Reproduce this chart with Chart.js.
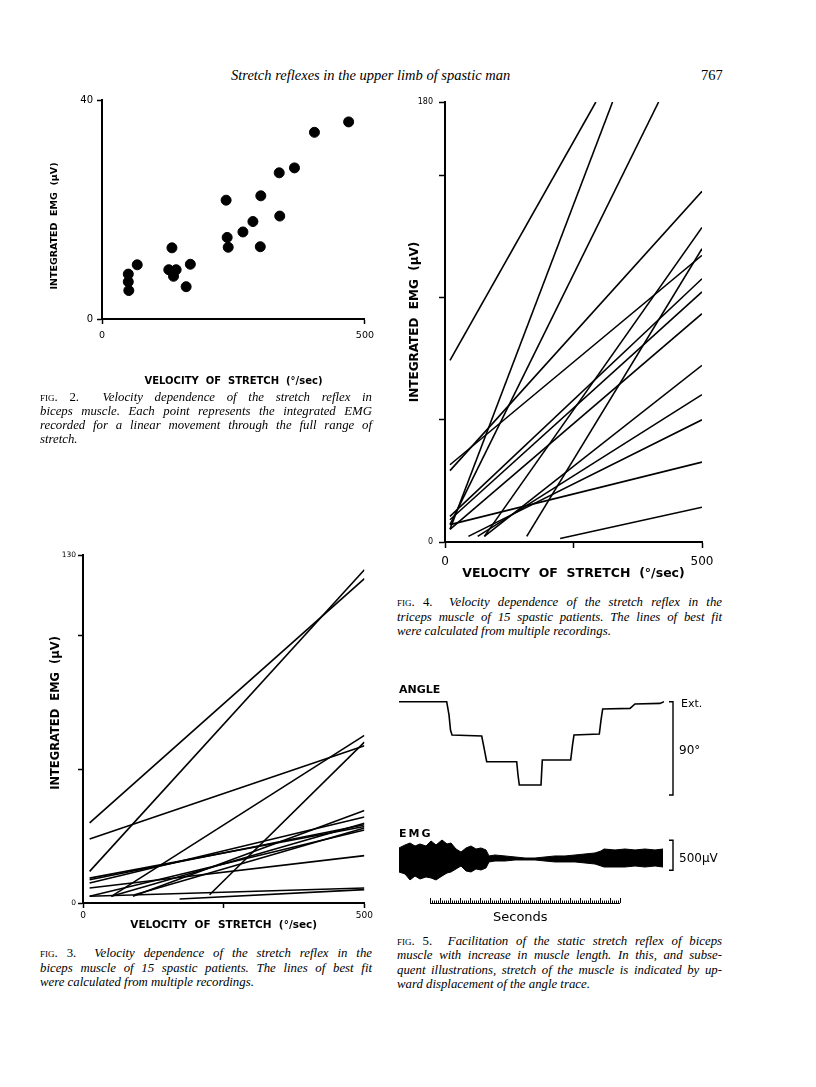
<!DOCTYPE html>
<html>
<head>
<meta charset="utf-8">
<script src="https://cdn.jsdelivr.net/npm/chart.js@4.4.0/dist/chart.umd.min.js"></script>
<style>
  html, body { margin: 0; padding: 0; background: #fff; }
  body { width: 816px; height: 1087px; position: relative; overflow: hidden; color: #000; }
  canvas { position: absolute; }
  .txt { position: absolute; white-space: nowrap; line-height: 16px; }
  .serif { font-family: 'Liberation Serif', 'DejaVu Serif', serif; }
  .sans { font-family: 'DejaVu Sans', sans-serif; }
  .cap {
    position: absolute; height: 14px; line-height: 14px; white-space: nowrap;
    font: italic 12.8px 'Liberation Serif', serif;
    text-align: justify; text-align-last: justify;
  }
  .cap.last { text-align-last: left; }
  .sc { font-style: normal; font-variant: small-caps; }
  .up { font-style: normal; }
</style>
</head>
<body>

<div class="txt serif" style="left:231px; top:67px; font-style:italic; font-size:14.5px;">Stretch reflexes in the upper limb of spastic man</div>
<div class="txt serif" style="left:701px; top:67px; font-size:14.5px;">767</div>

<canvas id="fig2" width="340" height="312" style="left:40px; top:85px;"></canvas>
<canvas id="fig3" width="345" height="395" style="left:30px; top:540px;"></canvas>
<canvas id="fig4" width="340" height="492" style="left:395px; top:90px;"></canvas>
<canvas id="fig5" width="340" height="240" style="left:390px; top:680px;"></canvas>

<!-- captions -->
<div class="cap" style="left:40px; width:332px; top:390px;"><span class="sc">fig</span><span class="up">. 2.</span>&nbsp; Velocity dependence of the stretch reflex in</div>
<div class="cap" style="left:40px; width:332px; top:404px;">biceps muscle. Each point represents the integrated EMG</div>
<div class="cap" style="left:40px; width:332px; top:418px;">recorded for a linear movement through the full range of</div>
<div class="cap last" style="left:40px; width:332px; top:432px;">stretch.</div>

<div class="cap" style="left:40px; width:332px; top:946px;"><span class="sc">fig</span><span class="up">. 3.</span>&nbsp; Velocity dependence of the stretch reflex in the</div>
<div class="cap" style="left:40px; width:332px; top:961px;">biceps muscle of 15 spastic patients. The lines of best fit</div>
<div class="cap last" style="left:40px; width:332px; top:975px;">were calculated from multiple recordings.</div>

<div class="cap" style="left:397px; width:325px; top:595px;"><span class="sc">fig</span><span class="up">. 4.</span>&nbsp; Velocity dependence of the stretch reflex in the</div>
<div class="cap" style="left:397px; width:325px; top:610px;">triceps muscle of 15 spastic patients. The lines of best fit</div>
<div class="cap last" style="left:397px; width:325px; top:624px;">were calculated from multiple recordings.</div>

<div class="cap" style="left:397px; width:325px; top:934px;"><span class="sc">fig</span><span class="up">. 5.</span>&nbsp; Facilitation of the static stretch reflex of biceps</div>
<div class="cap" style="left:397px; width:325px; top:948px;">muscle with increase in muscle length. In this, and subse-</div>
<div class="cap" style="left:397px; width:325px; top:963px;">quent illustrations, stretch of the muscle is indicated by up-</div>
<div class="cap last" style="left:397px; width:325px; top:977px;">ward displacement of the angle trace.</div>

<!-- fig 5 labels -->
<div class="txt sans" style="left:399px; top:682px; font-size:11px; font-weight:bold;">ANGLE</div>
<div class="txt sans" style="left:399px; top:826px; font-size:11px; font-weight:bold; letter-spacing:2px;">EMG</div>
<div class="txt sans" style="left:681px; top:696px; font-size:11px;">Ext.</div>
<div class="txt sans" style="left:679px; top:742px; font-size:12px;">90°</div>
<div class="txt sans" style="left:679px; top:850px; font-size:12px;">500μV</div>
<div class="txt sans" style="left:493px; top:909px; font-size:13px;">Seconds</div>

<script>
// ---- Fig. 2: single recordings, biceps (velocity °/sec, integrated EMG µV) ----
const fig2Velocity = [50, 50, 51, 67, 127, 133, 141, 136, 160, 168, 236, 238, 240, 268, 287, 302, 301, 337, 338, 366, 404, 469];
const fig2Emg = [8.2, 6.8, 5.2, 9.9, 9.0, 13.0, 9.0, 7.8, 5.9, 10.0, 21.7, 14.9, 13.1, 15.9, 17.8, 22.5, 13.2, 26.7, 18.8, 27.6, 34.1, 36.0];
const fig2XTicks = [0, 500];
const fig2YTicks = [0, 40];

// ---- Fig. 3: lines of best fit, biceps, 15 patients (start / end of each line) ----
const fig3X0 = [11.8, 11.8, 11.8, 50.4, 224.9, 11.8, 11.8, 11.8, 11.8, 91.8, 88.8, 11.8, 171.6, 11.8, 50.4];
const fig3Y0 = [29.9, 11.8, 23.9, 2.5, 3.1, 9.3, 8.7, 7.5, 5.6, 3.1, 2.5, 2.5, 1.5, 2.5, 2.5];
const fig3X1 = [500, 500, 500, 500, 500, 500, 500, 500, 500, 500, 500, 500, 500, 500, 500];
const fig3Y1 = [121.2, 124.5, 58.7, 62.6, 60.1, 28.6, 29.2, 32.1, 17.7, 28.0, 34.6, 5.6, 5.0, 27.3, 29.8];
const fig3XTicks = [0, 250, 500];
const fig3YTicks = [0, 50, 100, 130];
const fig3XLabels = [0, 500];
const fig3YLabels = [0, 130];

// ---- Fig. 4: lines of best fit, triceps, 15 patients ----
const fig4X0 = [9.7, 9.7, 9.7, 9.7, 9.7, 9.7, 224, 159, 45.5, 63.6, 76.6, 9.7, 9.7, 76.6, 9.7];
const fig4Y0 = [74.3, 29.2, 31.6, 5.2, 7.1, 7.1, 1.4, 2.3, 2.3, 2.3, 2.3, 10.5, 5.2, 2.3, 9.1];
const fig4X1 = [293.5, 500, 500, 326, 415.6, 500, 500, 500, 500, 500, 500, 500, 500, 500, 500];
const fig4Y1 = [180, 143.5, 117.3, 180, 180, 32.7, 14.2, 120, 50, 60.3, 72.3, 107.7, 93.4, 128.7, 102.3];
const fig4XTicks = [0, 250, 500];
const fig4YTicks = [0, 50, 100, 150, 180];
const fig4XLabels = [0, 500];
const fig4YLabels = [0, 180];

// ---- Fig. 5: angle trace (s, degrees) and EMG envelope (s, µV) ----
const angleTime = [0, 4.77, 5.0, 5.15, 5.3, 8.27, 8.45, 8.77, 11.77, 11.9, 12.03, 14.2, 14.33, 17.17, 17.35, 17.5, 20.03, 20.2, 20.37, 23.1, 23.6, 26.1, 26.5];
const angleDeg = [90, 90, 77.2, 62.7, 57.9, 56.9, 48.2, 32.1, 32.1, 19.3, 9.6, 9.6, 33.8, 33.8, 48.2, 57.9, 58.8, 72.3, 83.0, 83.6, 87.8, 88.4, 90];
const emgTime = [0, 0.6, 1.1, 1.6, 2.1, 2.7, 3.2, 3.7, 4.3, 4.8, 5.2, 5.7, 6.2, 6.7, 7.2, 7.7, 8.2, 8.7, 9.0, 9.6, 10.6, 11.6, 12.6, 13.6, 14.6, 15.6, 16.6, 17.6, 18.6, 19.6, 20.2, 20.5, 21.6, 22.6, 23.6, 24.6, 25.6, 26.4];
const emgUpper = [200, 250, 283, 233, 267, 233, 317, 250, 333, 267, 283, 183, 133, 200, 233, 183, 200, 167, 67, 83, 67, 50, 33, 33, 50, 67, 67, 83, 100, 117, 150, 183, 167, 183, 167, 183, 167, 183];
const emgLower = [-200, -233, -333, -267, -317, -283, -300, -333, -267, -217, -200, -150, -100, -183, -200, -150, -167, -133, -33, -17, -17, 0, 0, 0, -17, -33, -33, -33, -50, -67, -100, -117, -117, -117, -100, -117, -100, -117];
const angleCalib = [0, 90];      // 90° bar
const emgCalib = [-170, 330];    // 500 µV bar
const calibTime = 27.4;
const timeBar = [3.1, 22.1];     // seconds marker

const ink = '#000';
const sans = 'DejaVu Sans';

Chart.defaults.font.family = sans;
Chart.defaults.color = ink;

function lineSets(x0, y0, x1, y1) {
    return x0.map((v, i) => ({
        data: [{ x: v, y: y0[i] }, { x: x1[i], y: y1[i] }],
        showLine: true,
        borderColor: ink,
        borderWidth: 1.6,
        pointRadius: 0,
        fill: false
    }));
}

// shared axis setup for the velocity plots (Figs 2-4)
function velocityScales(c) {
    return {
        x: {
            type: 'linear', min: 0, max: 500,
            afterBuildTicks: s => { s.ticks = c.xTicks.map(v => ({ value: v })); },
            afterFit: s => { s.height = c.xHeight; },
            grid: { drawOnChartArea: false, tickLength: c.tickLen, tickWidth: 1.5, tickColor: ink },
            border: { color: ink, width: 2 },
            ticks: {
                color: ink, autoSkip: false, maxRotation: 0, padding: c.xTickPad,
                font: { family: sans, size: c.xTickSize },
                callback: v => c.xLabels.includes(v) ? String(v) : ''
            },
            title: {
                display: true, text: c.xTitle, color: ink,
                font: { family: sans, size: c.xTitleSize, weight: 'bold' },
                padding: { top: 0, bottom: c.xTitlePad }
            }
        },
        y: {
            type: 'linear', min: 0, max: c.yMax,
            afterBuildTicks: s => { s.ticks = c.yTicks.map(v => ({ value: v })); },
            afterFit: s => { s.width = c.yWidth; },
            grid: { drawOnChartArea: false, tickLength: c.tickLen, tickWidth: 1.5, tickColor: ink },
            border: { color: ink, width: 2 },
            ticks: {
                color: ink, autoSkip: false, padding: c.yTickPad,
                font: { family: sans, size: c.yTickSize },
                callback: v => c.yLabels.includes(v) ? String(v) : ''
            },
            title: {
                display: true, text: c.yTitle, color: ink,
                font: { family: sans, size: c.yTitleSize, weight: 'bold' },
                padding: { top: c.yTitlePad, bottom: 0 }
            }
        }
    };
}

const baseOptions = {
    responsive: false,
    animation: false,
    devicePixelRatio: 1,
    plugins: { legend: { display: false }, tooltip: { enabled: false } }
};

// 1. Fig. 2 scatter
new Chart(document.getElementById('fig2'), {
    type: 'scatter',
    data: {
        datasets: [{
            data: fig2Velocity.map((v, i) => ({ x: v, y: fig2Emg[i] })),
            backgroundColor: ink, borderColor: ink, pointRadius: 5, pointHoverRadius: 5
        }]
    },
    options: {
        ...baseOptions,
        layout: { padding: { top: 15, right: 10, left: 0, bottom: 0 } },
        scales: velocityScales({
            xTicks: fig2XTicks, xLabels: fig2XTicks, yTicks: fig2YTicks, yLabels: fig2YTicks, yMax: 40,
            xHeight: 78, yWidth: 62, tickLen: 5,
            xTickSize: 9.5, xTickPad: 6, yTickSize: 10, yTickPad: 4,
            xTitle: 'VELOCITY  OF  STRETCH  (°/sec)', xTitleSize: 10, xTitlePad: 10,
            yTitle: 'INTEGRATED  EMG  (μV)          ', yTitleSize: 9.5, yTitlePad: 9.3
        })
    }
});

// 2. Fig. 3 lines
new Chart(document.getElementById('fig3'), {
    type: 'scatter',
    data: { datasets: lineSets(fig3X0, fig3Y0, fig3X1, fig3Y1) },
    options: {
        ...baseOptions,
        layout: { padding: { top: 15, right: 10, left: 0, bottom: 0 } },
        scales: velocityScales({
            xTicks: fig3XTicks, xLabels: fig3XLabels, yTicks: fig3YTicks, yLabels: fig3YLabels, yMax: 130,
            xHeight: 32, yWidth: 53, tickLen: 5,
            xTickSize: 9, xTickPad: 2, yTickSize: 7.5, yTickPad: 2,
            xTitle: 'VELOCITY  OF  STRETCH  (°/sec)', xTitleSize: 10.5, xTitlePad: 3.7,
            yTitle: '        INTEGRATED  EMG  (μV)', yTitleSize: 11.5, yTitlePad: 19.5
        })
    }
});

// 3. Fig. 4 lines
new Chart(document.getElementById('fig4'), {
    type: 'scatter',
    data: { datasets: lineSets(fig4X0, fig4Y0, fig4X1, fig4Y1) },
    options: {
        ...baseOptions,
        layout: { padding: { top: 12, right: 33, left: 0, bottom: 0 } },
        scales: velocityScales({
            xTicks: fig4XTicks, xLabels: fig4XLabels, yTicks: fig4YTicks, yLabels: fig4YLabels, yMax: 180,
            xHeight: 40, yWidth: 50, tickLen: 6,
            xTickSize: 12, xTickPad: 7, yTickSize: 8, yTickPad: 6,
            xTitle: 'VELOCITY  OF  STRETCH  (°/sec)', xTitleSize: 12.5, xTitlePad: 0.5,
            yTitle: 'INTEGRATED  EMG  (μV)', yTitleSize: 12, yTitlePad: 12.8
        })
    }
});

// 4. Fig. 5 traces: calibration bars and time marker drawn from the scales
const fig5Marks = {
    id: 'fig5Marks',
    afterDraw(chart) {
        const { ctx, chartArea } = chart;
        const x = chart.scales.x;
        ctx.save();
        ctx.strokeStyle = ink;
        ctx.lineWidth = 1.4;
        const bx = x.getPixelForValue(calibTime);
        [[chart.scales.yA, angleCalib], [chart.scales.yE, emgCalib]].forEach(([scale, range]) => {
            const top = scale.getPixelForValue(range[1]);
            const bottom = scale.getPixelForValue(range[0]);
            ctx.beginPath();
            ctx.moveTo(bx - 4, top);
            ctx.lineTo(bx, top);
            ctx.lineTo(bx, bottom);
            ctx.lineTo(bx - 4, bottom);
            ctx.stroke();
        });

        // seconds marker, 0.2 s divisions
        const base = chartArea.bottom;
        ctx.lineWidth = 1;
        ctx.beginPath();
        ctx.moveTo(x.getPixelForValue(timeBar[0]), base + 0.5);
        ctx.lineTo(x.getPixelForValue(timeBar[1]), base + 0.5);
        const steps = Math.round((timeBar[1] - timeBar[0]) / 0.2);
        for (let i = 0; i <= steps; i++) {
            const px = Math.round(x.getPixelForValue(timeBar[0] + i * 0.2)) + 0.5;
            const h = i % 5 === 0 ? 5 : 2.5;
            ctx.moveTo(px, base);
            ctx.lineTo(px, base - h);
        }
        ctx.stroke();
        ctx.restore();
    }
};

new Chart(document.getElementById('fig5'), {
    type: 'line',
    data: {
        datasets: [
            {
                data: angleTime.map((t, i) => ({ x: t, y: angleDeg[i] })),
                yAxisID: 'yA', borderColor: ink, borderWidth: 1.6, pointRadius: 0, tension: 0, fill: false
            },
            {
                data: emgTime.map((t, i) => ({ x: t, y: emgUpper[i] })),
                yAxisID: 'yE', borderColor: ink, backgroundColor: ink, borderWidth: 1, pointRadius: 0, fill: '+1'
            },
            {
                data: emgTime.map((t, i) => ({ x: t, y: emgLower[i] })),
                yAxisID: 'yE', borderColor: ink, borderWidth: 1, pointRadius: 0, fill: false
            }
        ]
    },
    options: {
        ...baseOptions,
        layout: { padding: { top: 10, right: 66, left: 9, bottom: 17 } },
        scales: {
            x: { type: 'linear', min: 0, max: 26.5, display: false },
            yA: { type: 'linear', min: -104.2, max: 101.3, display: false },
            yE: { type: 'linear', min: -717, max: 2833, display: false }
        }
    },
    plugins: [fig5Marks]
});
</script>
</body>
</html>
